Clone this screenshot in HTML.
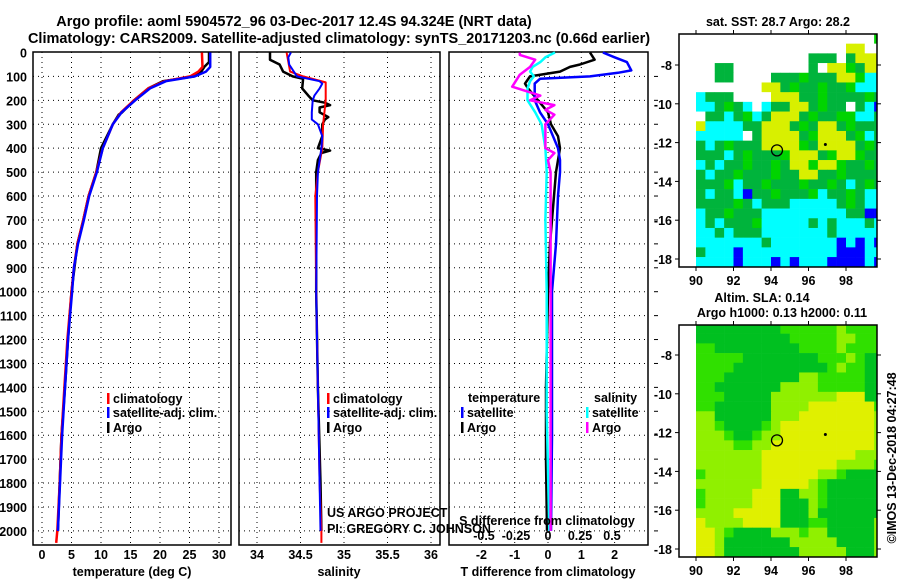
<!DOCTYPE html>
<html><head><meta charset="utf-8"><style>
body{margin:0;background:#fff;}
svg{display:block;font-family:"Liberation Sans",Arial,sans-serif;}
.b{font-weight:bold;}
</style></head><body>
<svg id="fig" width="900" height="580" viewBox="0 0 900 580">
<rect width="900" height="580" fill="#fff"/>
<g id="g"></g>
</svg>
<script>
// ---------- data ----------
const depthTicks=[0,100,200,300,400,500,600,700,800,900,1000,1100,1200,1300,1400,1500,1600,1700,1800,1900,2000];
const tempTicks=[0,5,10,15,20,25,30];
const salTicks=[34,34.5,35,35.5,36];
const salTickLabels=["34","34.5","35","35.5","36"];
const tdiffTicks=[-2,-1,0,1,2];
const sdiffTicks=[-0.5,-0.25,0,0.25,0.5];
const sdiffTickLabels=["-0.5","-0.25","0","0.25","0.5"];

const tClimDepth=[0,60,80,100,120,150,200,250,300,400,500,600,700,800,900,1000,1200,1400,1600,1800,2000,2050];
const tClimVal=[27.1,27.2,26.5,25.1,20.8,18.0,15.6,13.4,12.0,10.3,9.2,7.9,7.0,6.0,5.4,5.0,4.3,3.8,3.3,3.0,2.6,2.4];
const tSatDepth=[0,60,80,100,120,150,200,250,300,400,500,600,700,800,900,1000,1200,1400,1600,1800,2000];
const tSatVal=[28.5,28.5,27.8,25.9,21.0,18.3,15.8,13.5,12.0,10.3,9.3,8.0,7.1,6.1,5.4,5.1,4.4,3.9,3.4,3.05,2.7];
const tArgoDepth=[0,40,60,80,100,120,150,200,250,260,300,400,500,600,700,800,1000,1200,1400,1600,1800,2000];
const tArgoVal=[28.3,28.3,27.5,27.0,25.8,20.5,18.0,15.6,13.6,13.0,12.0,10.0,9.2,7.9,7.0,6.0,5.0,4.4,3.9,3.3,3.0,2.7];

const sClimDepth=[0,80,100,125,200,300,400,500,600,1000,1400,1800,2000,2050];
const sClimVal=[34.34,34.38,34.53,34.79,34.79,34.76,34.75,34.70,34.67,34.68,34.70,34.72,34.74,34.74];
const sSatDepth=[0,20,50,100,120,130,150,180,200,250,280,300,350,400,500,600,1000,1400,1800,2000];
const sSatVal=[34.39,34.36,34.37,34.46,34.72,34.75,34.72,34.66,34.64,34.63,34.63,34.70,34.75,34.74,34.70,34.69,34.68,34.70,34.72,34.73];
const sArgoDepth=[0,30,50,80,100,110,150,180,200,210,220,230,250,270,280,300,350,400,410,420,450,500,1000,1400,1800,2000];
const sArgoVal=[34.15,34.15,34.26,34.30,34.41,34.53,34.52,34.59,34.64,34.78,34.84,34.72,34.72,34.82,34.78,34.75,34.75,34.70,34.84,34.74,34.70,34.68,34.68,34.70,34.73,34.74];

const tdSatDepth=[0,20,40,75,85,100,110,130,200,250,300,350,400,450,500,600,700,800,1000,1200,1600,2000];
const tdSatVal=[1.65,2.0,2.37,2.5,2.1,1.26,-0.24,-0.4,-0.4,-0.24,0,0.15,0.3,0.36,0.36,0.3,0.27,0.24,0.12,0.12,0.12,0.09];
const tdArgoDepth=[0,30,50,60,80,100,130,150,200,250,300,350,400,500,600,800,1000,1400,1700,2000];
const tdArgoVal=[1.26,1.4,0.96,0.66,0.36,-0.54,-0.69,-0.6,-0.3,0,0.09,0.3,0.36,0.24,0.18,0.06,0,-0.06,-0.06,-0.03];
const sdSatDepth=[0,20,40,60,80,100,120,150,200,250,300,400,500,700,1000,1500,2000];
const sdSatVal=[0.055,-0.02,-0.06,-0.12,-0.14,-0.11,-0.14,-0.16,-0.16,-0.10,-0.05,-0.02,-0.01,-0.02,-0.01,-0.01,0.01];
const sdArgoDepth=[0,10,30,60,93,143,180,200,220,240,260,300,350,400,420,450,500,1000,1500,2000];
const sdArgoVal=[-0.22,-0.22,-0.1,-0.14,-0.22,-0.28,-0.06,-0.14,0.05,-0.02,0.05,-0.02,-0.02,-0.02,0.05,0,0.02,0.02,0.02,0.02];

// maps: 20 cols (lon 90..99.5 step .5), 24 rows (lat -6.4 .. -18.4 step .5)
const sstRows=[
"wwwwwwwwwwwwwwwwwwwl","wwwwwwwwwwwwwwwwyyww","wwwwwwwwwwwwgggwgyyy","wwggwwwwwwwwgwyylgyy",
"wwggwwwwggglgggyylcc","wwwwwwwyyglgglgglccc","cgggwwwwyyygglgggglg","ccglgcwcggyyglggwgcb",
"wggcglcgyyyglggllccg","yccccggyyyglgyyglggg","cccccwgyyyyglyyyglcg","gcglgggyyyylgyyyyglg",
"gggcglggglyyyglyylgg","cgcgglgglgyylyylgglg","gcgglggglggyygglgggg","ggglcgglggglgglgcglg",
"gcggcbgglggglcgglgcc","gggglgcgggcccccglgcc","cgglgggcccccccccggbb","cgcggglcccccgcgcccgc",
"ccgcgggcccccccgccccc","cccccccgcccccccbcbcb","gcccbccccccccccbbbcc","ccccbcccbcbcccbbbbcb"];
const slaRows=[
"GGGGGGGGGgggggglgggg","GGGGGGGGGGgggggllggg","ggGGGGGGGGGgggglgggg","gggggGGGGGGGGggglgGG",
"ggggGGGGGGGGGGglggGG","gggGGGGGGGGllgggggGG","ggGGGGGGGllllgggggGG","gggGGGGGlllllllyyyGG",
"ggGGGGGGllllyyyyyyyg","llGGGGGGlllyyyyyyyyl","llgGGGGglyyyyyyyyyyl","lllgGGgllyyyyyyyyyyl",
"llllggllyyyyyyyyyyyl","lllllllyyyyyyyyyylll","lllllllyyyyyyyyllllg","gllllllyyyyyyllgGGGG",
"lllllllyyyyylgGGGGGG","glllllyyyGGllgGGGGGG","glllllyyyGGGlgGGGGGG","llllyyyyyGGGlGGGGGGG",
"yllllyyyyGGGggGGGGGl","yylgGGGGlllgllGGGGGl","yylGGGGGGGlllllGGGGl","yylGGGGGGGGlllllGGGl"];
const mapLonTicks=[90,92,94,96,98];
const mapLatTicks=[-8,-10,-12,-14,-16,-18];
const argoPos=[94.32,-12.4];

// ---------- helpers ----------
const NS="http://www.w3.org/2000/svg";
const root=document.getElementById('g');
function mk(tag,attrs,parent){const e=document.createElementNS(NS,tag);for(const k in attrs)e.setAttribute(k,attrs[k]);(parent||root).appendChild(e);return e;}
function txt(x,y,s,anchor,cls,size,parent){const t=mk('text',{x:x,y:y,'text-anchor':anchor||'start','font-size':size||13,'class':cls||'b',fill:'#000'},parent);t.textContent=s;return t;}

const Y0=52.5, DY=0.2392, PTOP=52, PBOT=545;
const yD=d=>Y0+d*DY;
const panels=[
 {name:'temperature-panel',x0:33,x1:231,f:v=>42+v*5.9},
 {name:'salinity-panel',x0:239,x1:440,f:v=>257+(v-34)*87},
 {name:'difference-panel',x0:449,x1:648,f:v=>548+v*33.3}
];
const fS=v=>548+v*128;

// titles
let t=txt(294,26,'Argo profile: aoml 5904572_96 03-Dec-2017 12.4S 94.324E (NRT data)','middle','b',14.5);

t=txt(339,43,'Climatology: CARS2009. Satellite-adjusted climatology: synTS_20171203.nc (0.66d earlier)','middle','b',14.5);


panels.forEach((p,pi)=>{
  const g=mk('g',{});
  
  
  depthTicks.forEach(d=>{
    if(d===0)return;
    const l=mk('line',{x1:p.x0,x2:p.x1,y1:yD(d),y2:yD(d),stroke:'#000','stroke-width':1,'stroke-dasharray':'1,4'},g);
    
    
    if(pi===2){
      const tk=mk('line',{x1:p.x1+6,x2:p.x1+10,y1:yD(d),y2:yD(d),stroke:'#000','stroke-width':1},g);
      
      
    }
  });
  const ticks=pi===0?tempTicks:pi===1?salTicks:tdiffTicks;
  ticks.forEach((v,i)=>{
    const x=p.f(v);
    const l=mk('line',{x1:x,x2:x,y1:PTOP,y2:PBOT,stroke:'#000','stroke-width':1,'stroke-dasharray':'1,4'},g);
    
    
    const lab=txt(x,559,pi===1?salTickLabels[i]:String(v),'middle','b',12.5,g);
    
    
  });
  const fr=mk('rect',{x:p.x0,y:PTOP,width:p.x1-p.x0,height:PBOT-PTOP,fill:'none',stroke:'#000','stroke-width':1.5},g);
  
  
});
depthTicks.forEach(d=>{
  const l=txt(27,yD(d)+5,String(d),'end','b',12.5);
  
  
});
[['temperature (deg C)',132],['salinity',339],['T difference from climatology',548]].forEach(a=>{
  const l=txt(a[1],576,a[0],'middle','b',12.5);
  
  
});

function series(depths,vals,f,color,name,w){
  const pts=depths.map((d,i)=>f(vals[i]).toFixed(1)+','+yD(d).toFixed(1)).join(' ');
  const l=mk('polyline',{points:pts,fill:'none',stroke:color,'stroke-width':w||2.5,'stroke-linejoin':'round'});
  
  
}
const fT=panels[0].f,fSal=panels[1].f,fTd=panels[2].f;
series(tArgoDepth,tArgoVal,fT,'#000','temp-argo-line');
series(tClimDepth,tClimVal,fT,'#f00','temp-climatology-line');
series(tSatDepth,tSatVal,fT,'#00f','temp-satellite-line');
series(sArgoDepth,sArgoVal,fSal,'#000','sal-argo-line');
series(sClimDepth,sClimVal,fSal,'#f00','sal-climatology-line',2);
series(sSatDepth,sSatVal,fSal,'#00f','sal-satellite-line',2);
series(tdArgoDepth,tdArgoVal,fTd,'#000','tdiff-argo-line');
series(tdSatDepth,tdSatVal,fTd,'#00f','tdiff-satellite-line');
series(sdSatDepth,sdSatVal,fS,'#0ff','sdiff-satellite-line');
series(sdArgoDepth,sdArgoVal,fS,'#f0f','sdiff-argo-line');

// legends
function leg(x,y,color,label){
  const r=mk('rect',{x:x,y:y-10,width:2.5,height:11,fill:color});
  
  
  const l=txt(x+6,y,label,'start','b',12.5);
  
  
}
leg(107,403,'#f00','climatology');leg(107,417,'#00f','satellite-adj. clim.');leg(107,432,'#000','Argo');
leg(327,403,'#f00','climatology');leg(327,417,'#00f','satellite-adj. clim.');leg(327,432,'#000','Argo');
t=txt(468,402,'temperature','start','b',12.5);
t=txt(594,402,'salinity','start','b',12.5);
leg(461,417,'#00f','satellite');leg(461,432,'#000','Argo');
leg(586,417,'#0ff','satellite');leg(586,432,'#f0f','Argo');
t=txt(327,517,'US ARGO PROJECT','start','',12.5);
t=txt(327,533,'PI: GREGORY C. JOHNSON','start','',12.5);
t=txt(547,525,'S difference from climatology','middle','b',12.5);
sdiffTicks.forEach((v,i)=>{
  const l=txt(fS(v),540,sdiffTickLabels[i],'middle','b',12.5);
  
  
});

// maps
const MX0=679,MX1=877,LON0=696,DLON=18.75,DLAT=19.4;
const sstCol={w:'#fff',g:'#00b43c',l:'#00d400',y:'#d8f000',c:'#00ffff',b:'#0000ff'};
const slaCol={G:'#00c020',g:'#30e000',l:'#90f000',y:'#e0f000'};
function drawMap(rows,cols,top,bot,name,latAt8){
  const lonX=lon=>LON0+(lon-90)*DLON;
  const latY=lat=>latAt8+(-8-lat)*DLAT;
  const g=mk('g',{});
  
  
  rows.forEach((row,r)=>{
    for(let c=0;c<row.length;c++){
      const lat=-6.4-r*0.5, lon=90+c*0.5;
      const x=lonX(lon), y=Math.max(top,latY(lat));
      const x2=Math.min(MX1,lonX(lon+0.5)), y2=Math.min(bot,latY(lat-0.5));
      const cell=mk('rect',{x:x,y:y,width:x2-x+0.3,height:y2-y+0.3,fill:cols[row[c]]},g);
      
      
    }
  });
  const fr=mk('rect',{x:MX0,y:top,width:MX1-MX0,height:bot-top,fill:'none',stroke:'#000','stroke-width':1.5},g);
  
  
  mapLonTicks.forEach(lon=>{
    mk('line',{x1:lonX(lon),x2:lonX(lon),y1:bot,y2:bot+4,stroke:'#000'},g);
    mk('line',{x1:lonX(lon),x2:lonX(lon),y1:top,y2:top-4,stroke:'#000'},g);
    const l=txt(lonX(lon),bot+18,String(lon),'middle','b',12.5,g);
    
    
  });
  mapLatTicks.forEach(lat=>{
    mk('line',{x1:MX0-4,x2:MX0,y1:latY(lat),y2:latY(lat),stroke:'#000'},g);
    mk('line',{x1:MX1,x2:MX1+4,y1:latY(lat),y2:latY(lat),stroke:'#000'},g);
    const l=txt(672,latY(lat)+5,String(lat),'end','b',12.5,g);
    
    
  });
  const m=mk('circle',{cx:lonX(argoPos[0]),cy:latY(argoPos[1]),r:5.5,fill:'none',stroke:'#000','stroke-width':1.3},g);
  
  
  mk('circle',{cx:lonX(96.9),cy:latY(-12.1),r:1.5,fill:'#000'},g);
}
drawMap(sstRows,sstCol,34,267,'sst-map',65);
drawMap(slaRows,slaCol,325,557,'sla-map',355);
t=txt(778,26,'sat. SST: 28.7 Argo: 28.2','middle','b',12.5);
t=txt(762,302,'Altim. SLA: 0.14','middle','b',12.5);
t=txt(782,317,'Argo h1000: 0.13 h2000: 0.11','middle','b',12.5);
t=txt(0,0,'©IMOS 13-Dec-2018 04:27:48','middle','',12.5);
t.setAttribute('transform','translate(896,458) rotate(-90)');

</script>
</body></html>
